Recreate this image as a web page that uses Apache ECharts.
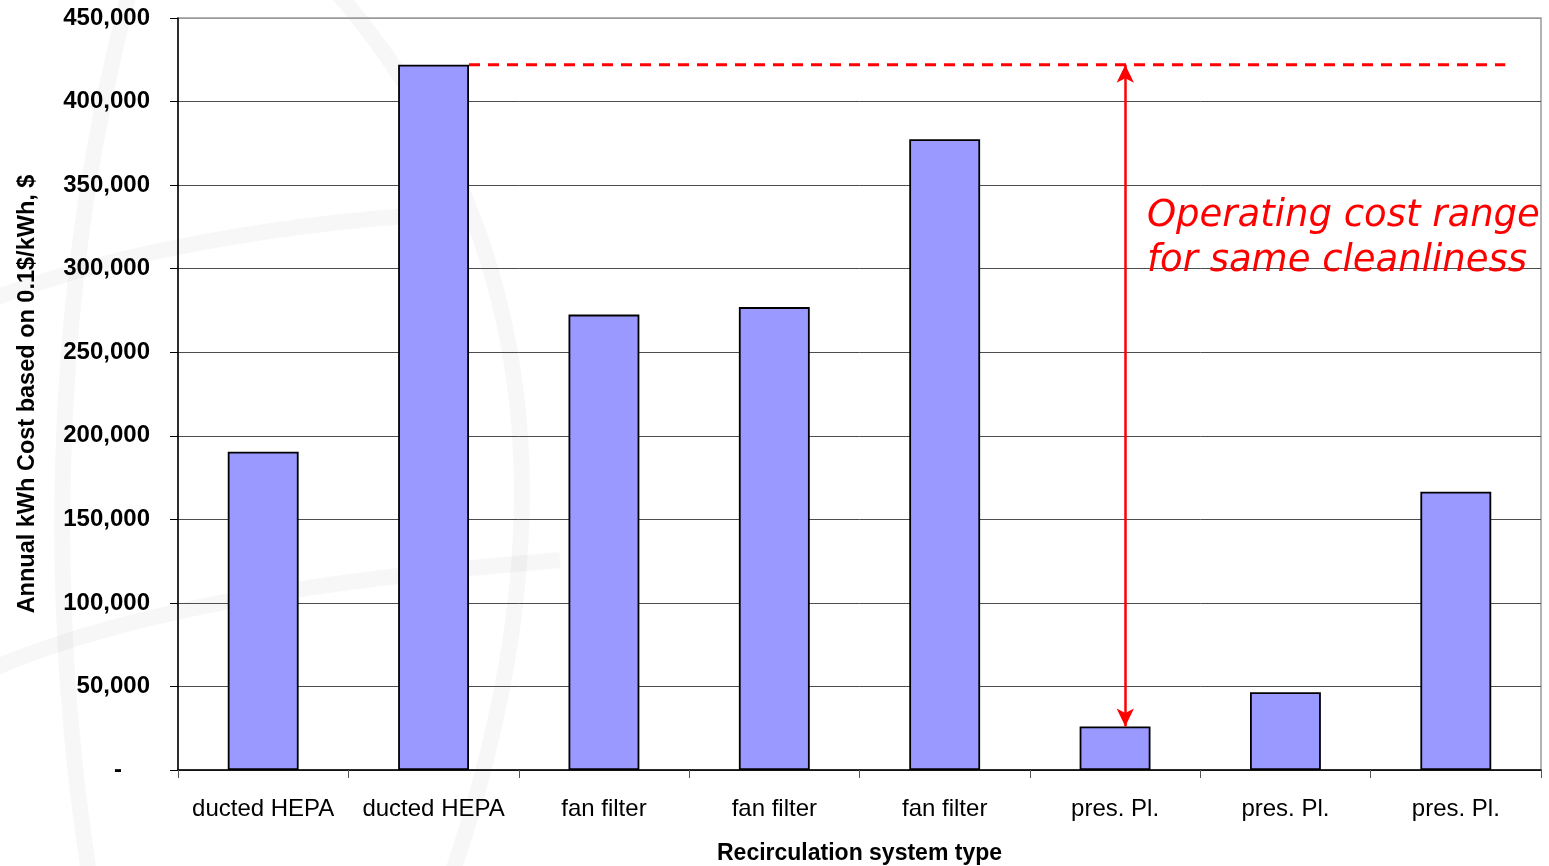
<!DOCTYPE html>
<html>
<head>
<meta charset="utf-8">
<title>Annual kWh Cost by Recirculation System Type</title>
<script src="https://cdn.jsdelivr.net/npm/echarts@6/dist/echarts.min.js"></script>
<style>
  html, body { margin: 0; padding: 0; background: #ffffff; }
  #chart { width: 1549px; height: 866px; }
</style>
</head>
<body>
<div id="chart"></div>
<script>
// Recirculation system types (one bar each)
const categories = [
  'ducted HEPA', 'ducted HEPA',
  'fan filter', 'fan filter', 'fan filter',
  'pres. Pl.', 'pres. Pl.', 'pres. Pl.'
];

// Annual kWh cost at 0.1 $/kWh, in $
const annualCost = [190500, 422000, 272500, 277000, 377500, 26000, 46500, 166500];

// Value-axis ticks
const yTicks = [0, 50000, 100000, 150000, 200000, 250000, 300000, 350000, 400000, 450000];

// Range annotation: from the highest to the lowest cost
const rangeHighIndex = 1;   // bar carrying the highest cost
const rangeLowIndex = 5;    // bar carrying the lowest cost
const rangeText = ['Operating cost range', 'for same cleanliness'];

const BAR_FRACTION = 0.416;
// accounting-style labels: zero shows as an indented dash
const fmt = v => v === 0 ? '{zero|-}' : v.toLocaleString('en-US');

const chart = echarts.init(document.getElementById('chart'), null, { renderer: 'canvas' });

const gridColors = yTicks.map((v, i) => i === yTicks.length - 1 ? '#9a9a9a' : '#4d4d4d');

const high = annualCost[rangeHighIndex];
const low = annualCost[rangeLowIndex];

// faint background emblem strokes
const wm = { stroke: 'rgba(0,0,0,0.03)', lineWidth: 16, fill: null };
const watermark = [
  { type: 'bezierCurve', shape: { x1: 335, y1: -10, cpx1: 560, cpy1: 250, cpx2: 560, cpy2: 560, x2: 450, y2: 880 } },
  { type: 'bezierCurve', shape: { x1: 130, y1: -10, cpx1: 60, cpy1: 250, cpx2: 40, cpy2: 560, x2: 90, y2: 880 } },
  { type: 'bezierCurve', shape: { x1: -10, y1: 300, cpx1: 120, cpy1: 250, cpx2: 280, cpy2: 225, x2: 420, y2: 215 } },
  { type: 'bezierCurve', shape: { x1: -10, y1: 670, cpx1: 150, cpy1: 600, cpx2: 380, cpy2: 575, x2: 560, y2: 560 } }
].map(g => Object.assign(g, { silent: true, z: -10, style: Object.assign({}, wm) }));

const option = {
  backgroundColor: '#ffffff',
  animation: false,
  textStyle: { fontFamily: 'Liberation Sans, Arial, sans-serif' },
  grid: {
    left: 178, right: 8, top: 18, bottom: 96,
    outerBoundsMode: 'none',
    containLabel: false,
    show: true, borderColor: '#9a9a9a', borderWidth: 1.5,
    backgroundColor: 'transparent'
  },
  xAxis: [
    {
      type: 'category',
      data: categories,
      name: 'Recirculation system type',
      nameLocation: 'middle',
      nameGap: 72,
      nameTextStyle: { fontSize: 23, fontWeight: 'bold', color: '#000' },
      axisLine: { lineStyle: { color: '#000', width: 1.5 } },
      axisTick: { show: true, length: 8, lineStyle: { color: '#555' } },
      axisLabel: { fontSize: 24, color: '#000', margin: 27, interval: 0 },
      splitLine: { show: false }
    },
    {
      // helper scale for the annotation lines (same extent as the categories)
      type: 'value', min: -0.5, max: categories.length - 0.5, show: false
    }
  ],
  yAxis: {
    type: 'value',
    min: 0, max: 450000, interval: 50000,
    name: 'Annual kWh Cost based on 0.1$/kWh, $',
    nameLocation: 'middle',
    nameGap: 138,
    nameTextStyle: { fontSize: 23.5, fontWeight: 'bold', color: '#000' },
    axisLine: { show: true, onZero: false, lineStyle: { color: '#000', width: 1.5 } },
    axisTick: { show: true, length: 8, lineStyle: { color: '#000' } },
    axisLabel: {
      fontSize: 24, fontWeight: 'bold', color: '#000', margin: 28,
      formatter: fmt,
      customValues: yTicks,
      rich: {
        zero: { fontSize: 24, fontWeight: 'bold', color: '#000', padding: [0, 28, 0, 0] }
      }
    },
    splitLine: { show: true, lineStyle: { color: gridColors, width: 1 } }
  },
  series: [
    {
      type: 'bar',
      data: annualCost,
      barWidth: (BAR_FRACTION * 100) + '%',
      itemStyle: { color: '#9999ff', borderColor: '#000', borderWidth: 1.8 },
      z: 2
    },
    {
      // dashed level line from the top of the highest bar
      type: 'line',
      xAxisIndex: 1,
      data: [[rangeHighIndex + BAR_FRACTION / 2, high], [7.29, high]],
      symbol: 'none',
      lineStyle: { color: '#ff0000', width: 3, type: [11, 8] },
      z: 5,
      silent: true,
      markLine: {
        silent: true,
        symbol: ['arrow', 'arrow'],
        symbolSize: [13, 18],
        label: { show: false },
        lineStyle: { color: '#ff0000', width: 2.5, type: 'solid' },
        data: [[
          { coord: [rangeLowIndex + 0.06, low] },
          { coord: [rangeLowIndex + 0.06, high] }
        ]]
      }
    }
  ],
  graphic: watermark.concat([
    {
      type: 'text',
      left: 1147, top: 194,
      z: 20,
      style: {
        text: rangeText.join('\n'),
        font: 'italic 37px "DejaVu Sans", Verdana, sans-serif',
        fill: '#ff0000',
        lineHeight: 45
      }
    }
  ])
};

chart.setOption(option);
</script>
</body>
</html>
